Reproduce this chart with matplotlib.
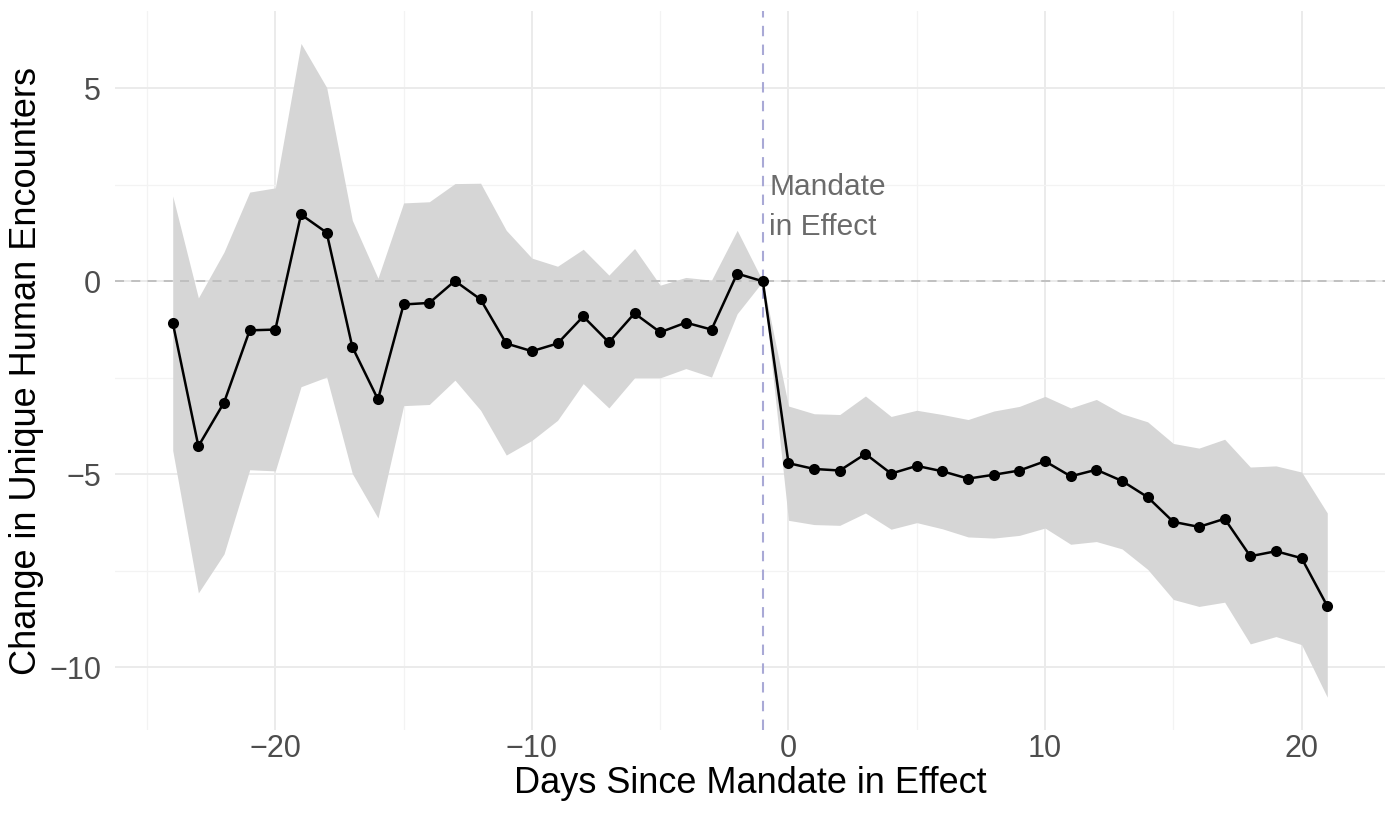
import matplotlib.pyplot as plt
from matplotlib.ticker import MultipleLocator

# days relative to the mandate taking effect
days = list(range(-24, 22))

# point estimates
estimate = [-1.07, -4.27, -3.14, -1.27, -1.25, 1.73, 1.26, -1.70, -3.06, -0.60,
            -0.56, 0.01, -0.47, -1.61, -1.81, -1.61, -0.91, -1.58, -0.83, -1.32,
            -1.07, -1.25, 0.20, 0.0,
            -4.71, -4.86, -4.90, -4.47, -4.98, -4.78, -4.92, -5.11, -5.01, -4.90,
            -4.66, -5.05, -4.88, -5.17, -5.59, -6.23, -6.36, -6.15, -7.12, -6.99,
            -7.17, -8.41]

# 95% confidence interval bounds
upper = [2.21, -0.43, 0.76, 2.31, 2.42, 6.16, 5.02, 1.58, 0.08, 2.03,
         2.06, 2.53, 2.54, 1.32, 0.60, 0.39, 0.83, 0.16, 0.85, -0.10,
         0.10, 0.03, 1.32, 0.0,
         -3.23, -3.43, -3.45, -2.97, -3.50, -3.34, -3.45, -3.58, -3.36, -3.24,
         -2.98, -3.28, -3.06, -3.43, -3.64, -4.20, -4.32, -4.09, -4.81, -4.78,
         -4.94, -6.00]

lower = [-4.38, -8.07, -7.06, -4.88, -4.91, -2.73, -2.48, -4.98, -6.13, -3.22,
         -3.19, -2.56, -3.34, -4.50, -4.12, -3.60, -2.65, -3.28, -2.50, -2.50,
         -2.26, -2.48, -0.84, 0.0,
         -6.19, -6.30, -6.32, -6.00, -6.42, -6.25, -6.41, -6.62, -6.65, -6.58,
         -6.39, -6.81, -6.74, -6.93, -7.46, -8.24, -8.42, -8.31, -9.39, -9.20,
         -9.41, -10.77]

mandate_day = -1

plt.rcParams['font.family'] = ['Liberation Sans', 'DejaVu Sans']

fig = plt.figure(figsize=(13.92, 8.14), dpi=100)
ax = fig.add_axes([115 / 1392, 1 - 730 / 814, (1385 - 115) / 1392, (730 - 11) / 814])

ax.fill_between(days, lower, upper, color='#d6d6d6', linewidth=0, zorder=2)
ax.axhline(0, color='#bdbdbd', linestyle=(0, (5, 4)), linewidth=1.3, zorder=3)
ax.axvline(mandate_day, color='#a9a9d6', linestyle=(0, (5, 4)), linewidth=1.5, zorder=3)
ax.plot(days, estimate, color='black', linewidth=1.8, zorder=4)
ax.scatter(days, estimate, color='black', s=64, zorder=5, linewidths=0)

ax.text(mandate_day + 0.25, 1.05, 'Mandate\nin Effect', color='#6b6b6b',
        fontsize=21.5, ha='left', va='bottom', linespacing=1.55, zorder=6)

ax.set_xlim(-26.25, 23.25)
ax.set_ylim(-11.62, 7.0)
ax.xaxis.set_major_locator(MultipleLocator(10))
ax.xaxis.set_minor_locator(MultipleLocator(5))
ax.yaxis.set_major_locator(MultipleLocator(5))
ax.yaxis.set_minor_locator(MultipleLocator(2.5))

ax.grid(which='major', color='#ebebeb', linewidth=1.4, zorder=0)
ax.grid(which='minor', color='#f3f3f3', linewidth=0.9, zorder=0)
ax.set_axisbelow(True)
for spine in ax.spines.values():
    spine.set_visible(False)
ax.tick_params(which='both', length=0, labelsize=22, labelcolor='#4d4d4d')
ax.tick_params(axis='x', pad=3)
ax.tick_params(axis='y', pad=10)

ax.set_xlabel('Days Since Mandate in Effect', fontsize=26, labelpad=1)
ax.set_ylabel('Change in Unique Human Encounters', fontsize=26, labelpad=4)

fig.savefig('out.png', dpi=100)
